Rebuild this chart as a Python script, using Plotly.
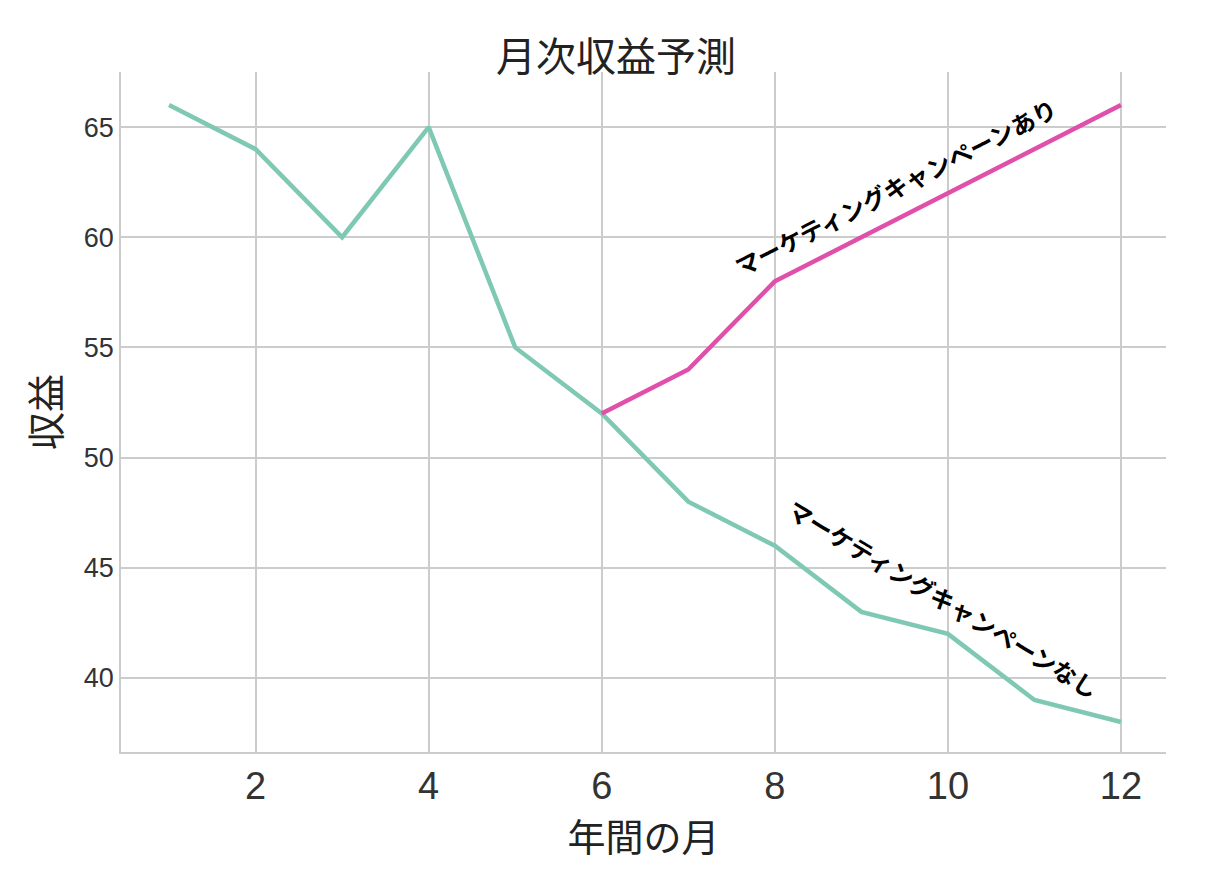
import plotly.graph_objects as go

# data
months = [1, 2, 3, 4, 5, 6, 7, 8, 9, 10, 11, 12]
revenue_no_campaign = [66, 64, 60, 65, 55, 52, 48, 46, 43, 42, 39, 38]
campaign_months = [6, 7, 8, 9, 10, 11, 12]
revenue_campaign = [52, 54, 58, 60, 62, 64, 66]

font = "Noto Sans CJK JP"

fig = go.Figure()
fig.add_trace(go.Scatter(x=months, y=revenue_no_campaign, mode="lines",
                         line=dict(color="#7fc9b4", width=4.5), showlegend=False))
fig.add_trace(go.Scatter(x=campaign_months, y=revenue_campaign, mode="lines",
                         line=dict(color="#e04fa9", width=4.5), showlegend=False))

# labels along the lines
fig.add_annotation(x=9.4, y=62.3, text="<b>マーケティングキャンペーンあり</b>", textangle=-27,
                   showarrow=False, font=dict(family=font, size=24, color="black"))
fig.add_annotation(x=9.95, y=43.6, text="<b>マーケティングキャンペーンなし</b>", textangle=31,
                   showarrow=False, font=dict(family=font, size=24, color="black"))

fig.update_layout(
    width=1216, height=880,
    plot_bgcolor="white", paper_bgcolor="white",
    margin=dict(l=113, r=58, t=64, b=136),
    title=dict(text="月次収益予測", x=0.5, xanchor="center", y=0.96,
               font=dict(family=font, size=40, color="#222")),
    font=dict(family=font, color="#333"),
)
fig.update_xaxes(range=[0.445, 12.52], tickvals=[2, 4, 6, 8, 10, 12],
                 tickfont=dict(size=38, family="Liberation Sans"),
                 showgrid=True, gridcolor="#cccccc", gridwidth=1.5,
                 showline=True, linecolor="#cccccc", linewidth=1.5, zeroline=False,
                 title=dict(text="年間の月", font=dict(size=38, color="#222"), standoff=8))
fig.update_yaxes(range=[36.64, 67.5], tickvals=[40, 45, 50, 55, 60, 65],
                 tickfont=dict(size=27, family="Liberation Sans"),
                 showgrid=True, gridcolor="#cccccc", gridwidth=1.5,
                 showline=True, linecolor="#cccccc", linewidth=1.5, zeroline=False,
                 title=dict(text="収益", font=dict(size=38, color="#222"), standoff=12))

fig.write_html("out.html")
